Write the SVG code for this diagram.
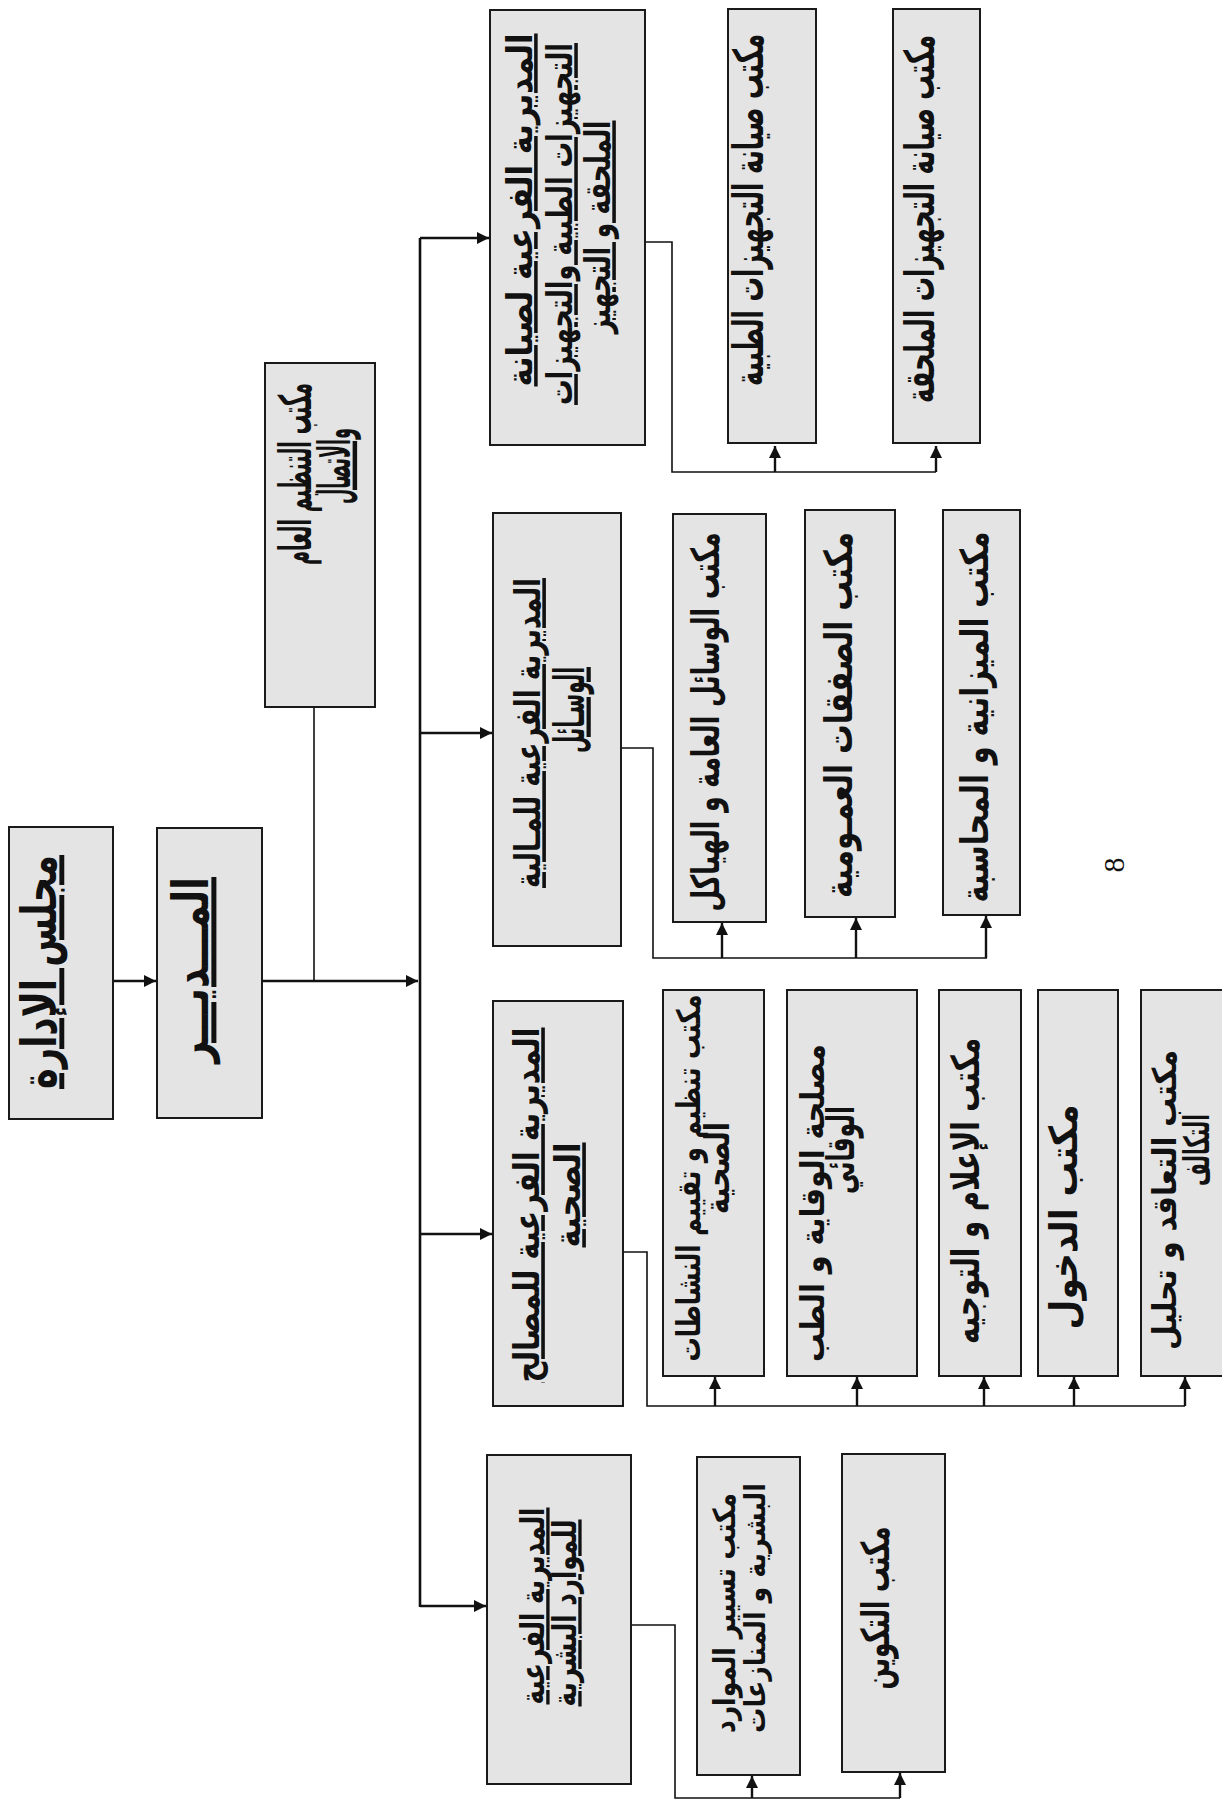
<svg xmlns="http://www.w3.org/2000/svg" width="1222" height="1805" viewBox="0 0 1222 1805">
<style>
.bg{fill:#ffffff}
.box{fill:#e4e4e4;stroke:#1a1a1a;stroke-width:2}
.t{font-family:"DejaVu Sans",sans-serif;font-weight:bold;fill:#111;text-anchor:middle}
.u{text-decoration:underline}
.ln{fill:none;stroke:#111;stroke-width:1.6}
.bus{fill:none;stroke:#111;stroke-width:2.6}
.ar{fill:none;stroke:#111;stroke-width:2.4}
</style>
<defs>
<marker id="ah" viewBox="0 0 10 10" refX="10" refY="5" markerWidth="5" markerHeight="5" orient="auto" markerUnits="strokeWidth">
<path d="M0,0 L10,5 L0,10 z" fill="#111"/>
</marker>
</defs>
<rect class="bg" x="0" y="0" width="1222" height="1805"/>

<g id="connectors">
<line class="ar" x1="113" y1="981" x2="156" y2="981" marker-end="url(#ah)"/>
<line class="ar" x1="262" y1="981" x2="418" y2="981" marker-end="url(#ah)"/>
<line class="ln" x1="314" y1="707" x2="314" y2="981"/>
<line class="bus" x1="420" y1="238" x2="420" y2="1607"/>
<line class="ar" x1="420" y1="238" x2="489" y2="238" marker-end="url(#ah)"/>
<line class="ar" x1="420" y1="733" x2="492" y2="733" marker-end="url(#ah)"/>
<line class="ar" x1="420" y1="1234" x2="492" y2="1234" marker-end="url(#ah)"/>
<line class="ar" x1="420" y1="1606" x2="486" y2="1606" marker-end="url(#ah)"/>
<path class="ln" d="M645,242 H672 V472 H936"/>
<line class="ar" x1="775" y1="472" x2="775" y2="446" marker-end="url(#ah)"/>
<line class="ar" x1="936" y1="472" x2="936" y2="446" marker-end="url(#ah)"/>
<path class="ln" d="M621,748 H653 V958 H987"/>
<line class="ar" x1="722" y1="958" x2="722" y2="923" marker-end="url(#ah)"/>
<line class="ar" x1="856" y1="958" x2="856" y2="918" marker-end="url(#ah)"/>
<line class="ar" x1="986" y1="958" x2="986" y2="916" marker-end="url(#ah)"/>
<path class="ln" d="M623,1252 H647 V1406 H1185"/>
<line class="ar" x1="715" y1="1406" x2="715" y2="1377" marker-end="url(#ah)"/>
<line class="ar" x1="857" y1="1406" x2="857" y2="1377" marker-end="url(#ah)"/>
<line class="ar" x1="984" y1="1406" x2="984" y2="1377" marker-end="url(#ah)"/>
<line class="ar" x1="1074" y1="1406" x2="1074" y2="1377" marker-end="url(#ah)"/>
<line class="ar" x1="1185" y1="1406" x2="1185" y2="1377" marker-end="url(#ah)"/>
<path class="ln" d="M631,1625 H675 V1798 H900"/>
<line class="ar" x1="752" y1="1798" x2="752" y2="1776" marker-end="url(#ah)"/>
<line class="ar" x1="900" y1="1798" x2="900" y2="1773" marker-end="url(#ah)"/>
</g>

<g id="board">
<rect class="box" x="9" y="827" width="104" height="292"/>
<text class="t u" transform="translate(56 972) rotate(-90) scale(1 1.32)" style="font-size:37px" textLength="234" lengthAdjust="spacingAndGlyphs">مجلس الإدارة</text>
</g>
<g id="director">
<rect class="box" x="157" y="828" width="105" height="290"/>
<text class="t u" transform="translate(208 970) rotate(-90) scale(1 1.32)" style="font-size:38px" textLength="186" lengthAdjust="spacingAndGlyphs">المـــديـــر</text>
</g>
<g id="org-office">
<rect class="box" x="265" y="363" width="110" height="344"/>
<text class="t" transform="translate(311 474) rotate(-90) scale(1 2.3)" style="font-size:19.5px" textLength="182" lengthAdjust="spacingAndGlyphs">مكتب التنظيم العام</text>
<text class="t u" transform="translate(350 466) rotate(-90) scale(1 2.5)" style="font-size:18px" textLength="76" lengthAdjust="spacingAndGlyphs">والاتصال</text>
</g>
<g id="sd-maintenance">
<rect class="box" x="490" y="10" width="155" height="435"/>
<text class="t u" transform="translate(532 210) rotate(-90) scale(1 1.15)" style="font-size:30.7px" textLength="353" lengthAdjust="spacingAndGlyphs">المديرية الفرعية لصيانة</text>
<text class="t u" transform="translate(572 224) rotate(-90) scale(1 1.36)" style="font-size:25.9px" textLength="362" lengthAdjust="spacingAndGlyphs">التجهيزات الطبية والتجهيزات</text>
<text class="t u" transform="translate(610 227) rotate(-90) scale(1 1.4)" style="font-size:25.3px" textLength="213" lengthAdjust="spacingAndGlyphs">الملحقة و التجهيز</text>
</g>
<g id="sd-finance">
<rect class="box" x="493" y="513" width="128" height="433"/>
<text class="t u" transform="translate(540 733) rotate(-90) scale(1 1.42)" style="font-size:25.3px" textLength="310" lengthAdjust="spacingAndGlyphs">المديرية الفرعية للمـالية</text>
<text class="t u" transform="translate(584 710) rotate(-90) scale(1 2.1)" style="font-size:20px" textLength="86" lengthAdjust="spacingAndGlyphs">الوسـائل</text>
</g>
<g id="sd-health">
<rect class="box" x="493" y="1001" width="130" height="405"/>
<text class="t u" transform="translate(539 1205) rotate(-90) scale(1 1.3)" style="font-size:27.7px" textLength="355" lengthAdjust="spacingAndGlyphs">المديرية الفرعية للمصالح</text>
<text class="t u" transform="translate(580 1195) rotate(-90) scale(1 1.32)" style="font-size:27.4px" textLength="105" lengthAdjust="spacingAndGlyphs">الصحية</text>
</g>
<g id="sd-hr">
<rect class="box" x="487" y="1455" width="144" height="329"/>
<text class="t u" transform="translate(544 1606) rotate(-90) scale(1 1.3)" style="font-size:25.7px" textLength="197" lengthAdjust="spacingAndGlyphs">المديرية الفرعية</text>
<text class="t u" transform="translate(576 1613) rotate(-90) scale(1 1.4)" style="font-size:23.8px" textLength="187" lengthAdjust="spacingAndGlyphs">للموارد البشرية</text>
</g>
<g id="o-med-equip">
<rect class="box" x="728" y="9" width="88" height="434"/>
<text class="t" transform="translate(763 210) rotate(-90) scale(1 1.68)" style="font-size:24.7px" textLength="352" lengthAdjust="spacingAndGlyphs">مكتب صيانة التجهيزات الطبية</text>
</g>
<g id="o-aux-equip">
<rect class="box" x="893" y="9" width="87" height="434"/>
<text class="t" transform="translate(934 219) rotate(-90) scale(1 1.68)" style="font-size:24.6px" textLength="368" lengthAdjust="spacingAndGlyphs">مكتب صيانة التجهيزات الملحقة</text>
</g>
<g id="o-general-means">
<rect class="box" x="673" y="514" width="93" height="408"/>
<text class="t" transform="translate(719 722) rotate(-90) scale(1 1.55)" style="font-size:25px" textLength="379" lengthAdjust="spacingAndGlyphs">مكتب الوسائل العامة و الهياكل</text>
</g>
<g id="o-procurement">
<rect class="box" x="805" y="510" width="90" height="407"/>
<text class="t" transform="translate(852 715) rotate(-90) scale(1 1.3)" style="font-size:29.8px" textLength="366" lengthAdjust="spacingAndGlyphs">مكتب الصفقات العمـومية</text>
</g>
<g id="o-budget">
<rect class="box" x="943" y="510" width="77" height="405"/>
<text class="t" transform="translate(988 717) rotate(-90) scale(1 1.33)" style="font-size:28.9px" textLength="371" lengthAdjust="spacingAndGlyphs">مكتب الميزانية  و المحاسبة</text>
</g>
<g id="o-health-activities">
<rect class="box" x="663" y="990" width="101" height="386"/>
<text class="t" transform="translate(700 1178) rotate(-90) scale(1 1.22)" style="font-size:26.6px" textLength="367" lengthAdjust="spacingAndGlyphs">مكتب تنظيم و تقييم النشاطات</text>
<text class="t" transform="translate(729 1168) rotate(-90) scale(1 1.35)" style="font-size:25.7px" textLength="92" lengthAdjust="spacingAndGlyphs">الصحية</text>
</g>
<g id="o-prevention">
<rect class="box" x="787" y="990" width="130" height="386"/>
<text class="t" transform="translate(824 1203) rotate(-90) scale(1 1.15)" style="font-size:28.6px" textLength="318" lengthAdjust="spacingAndGlyphs">مصلحة الوقاية و الطب</text>
<text class="t" transform="translate(854 1150) rotate(-90) scale(1 1.4)" style="font-size:27.7px" textLength="88" lengthAdjust="spacingAndGlyphs">الوقائي</text>
</g>
<g id="o-information">
<rect class="box" x="939" y="990" width="82" height="386"/>
<text class="t" transform="translate(979 1191) rotate(-90) scale(1 1.4)" style="font-size:27.5px" textLength="306" lengthAdjust="spacingAndGlyphs">مكتب الإعلام و التوجيه</text>
</g>
<g id="o-admission">
<rect class="box" x="1038" y="990" width="80" height="386"/>
<text class="t" transform="translate(1077 1217) rotate(-90) scale(1 1.15)" style="font-size:33.6px" textLength="225" lengthAdjust="spacingAndGlyphs">مكتب الدخول</text>
</g>
<g id="o-contracting">
<rect class="box" x="1141" y="990" width="95" height="386"/>
<text class="t" transform="translate(1176 1200) rotate(-90) scale(1 1.15)" style="font-size:28.5px" textLength="300" lengthAdjust="spacingAndGlyphs">مكتب  التعاقد و تحليل</text>
<text class="t" transform="translate(1209 1150) rotate(-90) scale(1 2.0)" style="font-size:17.5px" textLength="72" lengthAdjust="spacingAndGlyphs">التكالف</text>
</g>
<g id="o-hr-management">
<rect class="box" x="697" y="1457" width="103" height="318"/>
<text class="t" transform="translate(735 1613) rotate(-90) scale(1 1.05)" style="font-size:29px" textLength="240" lengthAdjust="spacingAndGlyphs">مكتب تسيير الموارد</text>
<text class="t" transform="translate(765 1608) rotate(-90) scale(1 1.12)" style="font-size:25.6px" textLength="250" lengthAdjust="spacingAndGlyphs">البشرية و المنازعات</text>
</g>
<g id="o-training">
<rect class="box" x="842" y="1454" width="103" height="318"/>
<text class="t" transform="translate(889 1608) rotate(-90) scale(1 1.55)" style="font-size:24.9px" textLength="163" lengthAdjust="spacingAndGlyphs">مكتب التكوين</text>
</g>
<text transform="translate(1124 865) rotate(-90)" style="font-family:'Liberation Serif',serif;font-size:30px;fill:#111;text-anchor:middle">8</text>
</svg>
